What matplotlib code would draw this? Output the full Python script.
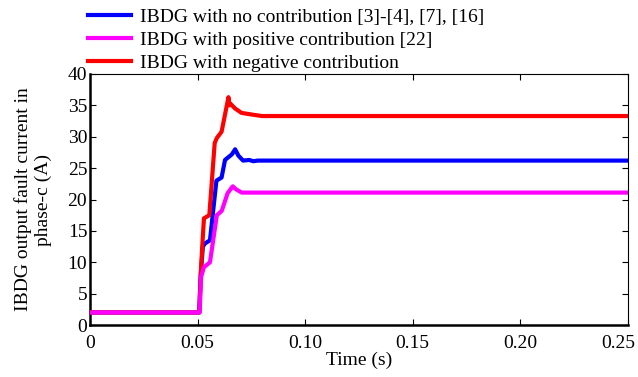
import matplotlib.pyplot as plt
import matplotlib.transforms as mtransforms
from matplotlib.lines import Line2D

plt.rcParams["font.family"] = ["Liberation Serif", "DejaVu Serif"]

# phase-c fault current (A), time in s
t_none = [0, 0.0508, 0.0515, 0.0525, 0.0535, 0.0558, 0.0588, 0.0612, 0.0628,
          0.0660, 0.0675, 0.0690, 0.0712, 0.0740, 0.0760, 0.0780, 0.25]
i_none = [2, 2, 8, 12.5, 13.0, 13.5, 23.0, 23.5, 26.3,
          27.2, 28.0, 27.0, 26.2, 26.3, 26.1, 26.2, 26.2]

t_pos = [0, 0.0510, 0.0517, 0.0530, 0.0558, 0.0590, 0.0613, 0.0640, 0.0664,
         0.0680, 0.0706, 0.25]
i_pos = [2, 2, 7.7, 9.2, 10.0, 17.5, 18.2, 21.0, 22.1, 21.6, 21.1, 21.1]

t_neg = [0, 0.0508, 0.0515, 0.0522, 0.0530, 0.0555, 0.0580, 0.0590, 0.0612,
         0.0644, 0.0649, 0.0655, 0.0675, 0.0705, 0.0760, 0.0800, 0.25]
i_neg = [2, 2, 8, 12.5, 17.0, 17.5, 29.0, 29.8, 30.8,
         36.3, 35.0, 35.2, 34.5, 33.8, 33.5, 33.3, 33.3]

labels = ["IBDG with no contribution [3]-[4], [7], [16]",
          "IBDG with positive contribution [22]",
          "IBDG with negative contribution"]
colors = ["#0000ff", "#ff00ff", "#ff0000"]

xticks = [0, 0.05, 0.10, 0.15, 0.20, 0.25]
xticklabels = ["0", "0.05", "0.10", "0.15", "0.20", "0.25"]
yticks = list(range(0, 45, 5))

fs = 14
fig = plt.figure(figsize=(6.38, 3.77), dpi=100)
ax = fig.add_axes([90 / 638, 1 - 325 / 377, 537.5 / 638, 251 / 377])

lw = 3
ax.plot(t_none, i_none, color=colors[0], lw=lw, zorder=2)
ax.plot(t_neg, i_neg, color=colors[2], lw=lw, zorder=3)
ax.plot(t_pos, i_pos, color=colors[1], lw=lw, zorder=4)

ax.set_xlim(0, 0.25)
ax.set_ylim(0, 40)
ax.set_xticks(xticks)
ax.set_xticklabels(xticklabels)
ax.set_yticks(yticks)

ax.tick_params(axis="x", direction="in", top=True, labelsize=fs, length=4, pad=7)
ax.tick_params(axis="y", direction="in", right=True, labelsize=fs, length=4, pad=2)
for s in ["left", "bottom"]:
    ax.spines[s].set_linewidth(1.8)
for s in ["top", "right"]:
    ax.spines[s].set_linewidth(0.8)

# last x label sits a bit left of its tick so it stays inside the figure
last = ax.get_xticklabels()[-1]
last.set_transform(last.get_transform() +
                   mtransforms.ScaledTranslation(-9 / 100, 0, fig.dpi_scale_trans))

ax.set_xlabel("Time (s)", fontsize=fs, labelpad=0)
ax.set_ylabel("IBDG output fault current in\nphase-c (A)", fontsize=fs,
              labelpad=11, linespacing=1.25)

handles = [Line2D([], [], color=c, lw=lw) for c in colors]
fig.legend(handles, labels, loc="upper left",
           bbox_to_anchor=(88 / 638, 1 - 8 / 377),
           frameon=False, fontsize=fs, handlelength=2.2, handletextpad=0.5,
           labelspacing=0.28, borderpad=0, borderaxespad=0)

fig.savefig("out.png", dpi=100)
